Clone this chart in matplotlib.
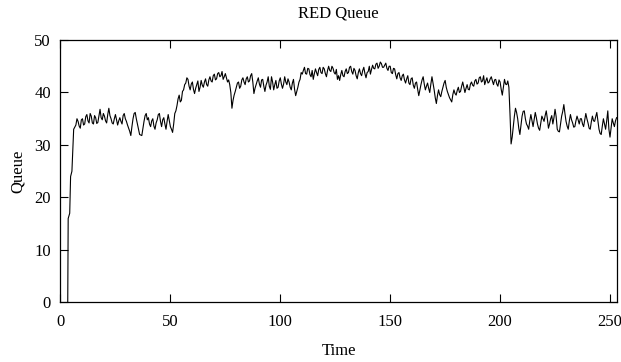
import matplotlib
matplotlib.use("Agg")
import matplotlib.pyplot as plt
import numpy as np

plt.rcParams.update({
    'font.family': ['Liberation Serif', 'DejaVu Serif'],
    'font.size': 12,
    'xtick.direction': 'in',
    'ytick.direction': 'in',
    'xtick.top': True,
    'ytick.right': True,
    'axes.linewidth': 0.9,
})

# start-up ramp of the queue (irregular sampling)
ramp_time = [3.3, 3.5, 4.2, 4.6, 5.2, 6.0]
ramp_queue = [0.0, 16.0, 17.0, 24.0, 25.0, 33.0]

# queue length, two samples per time unit from t=7 to t=253
queue = [
    33.8, 35.0, 34.5, 33.6, 33.2, 34.8, 35.0, 33.8, 34.0, 35.4, 35.8, 34.6, 34.2, 36.0, 35.5, 34.2, 34.0, 35.6, 35.2, 34.1,
    34.3, 35.5, 36.8, 35.2, 34.8, 36.0, 35.5, 34.6, 34.2, 35.8, 37.0, 35.6, 35.0, 34.2, 34.0, 35.0, 35.8, 34.8, 33.8, 34.6,
    35.2, 34.5, 34.0, 35.6, 36.0, 35.0, 34.5, 33.8, 33.2, 32.6, 31.8, 33.5, 35.0, 36.0, 36.2, 35.0, 34.0, 33.0, 32.0, 31.9,
    31.8, 33.2, 34.5, 35.6, 36.0, 34.8, 35.2, 34.0, 33.5, 34.6, 35.0, 33.6, 33.0, 34.2, 34.8, 35.8, 36.0, 34.5, 33.5, 34.8,
    35.2, 34.0, 33.0, 34.5, 35.8, 34.6, 33.5, 33.0, 32.4, 34.0, 36.0, 36.5, 37.5, 38.8, 39.5, 38.2, 38.5, 40.2, 40.5, 41.5,
    41.8, 42.8, 42.5, 41.2, 40.5, 41.6, 42.0, 40.6, 39.8, 40.8, 41.5, 42.2, 40.2, 41.0, 42.3, 41.4, 41.0, 42.0, 42.6, 41.5,
    41.2, 42.4, 43.0, 42.2, 42.0, 43.2, 43.5, 42.4, 42.6, 43.6, 43.8, 43.0, 43.2, 44.0, 42.5, 43.0, 43.6, 42.8, 42.0, 42.4,
    41.5, 40.0, 37.0, 38.5, 39.5, 40.2, 41.0, 41.8, 42.0, 40.8, 41.2, 42.4, 42.8, 42.0, 41.5, 42.6, 43.0, 42.0, 42.2, 43.2,
    43.6, 42.0, 39.8, 40.8, 41.5, 42.2, 42.8, 41.6, 41.0, 42.4, 42.5, 41.2, 40.2, 41.4, 42.0, 43.0, 41.2, 40.6, 43.0, 42.0,
    40.5, 41.5, 42.3, 40.8, 41.0, 42.2, 42.8, 41.6, 40.8, 41.6, 43.0, 42.0, 41.5, 42.6, 42.0, 41.0, 40.5, 41.8, 42.5, 40.6,
    39.4, 40.2, 41.0, 42.0, 42.5, 43.8, 43.5, 44.2, 44.8, 43.6, 43.5, 44.6, 44.5, 43.4, 43.0, 44.2, 42.5, 43.6, 44.5, 43.8,
    43.2, 44.4, 44.8, 43.8, 43.6, 44.8, 44.5, 43.6, 43.0, 44.2, 45.0, 44.2, 44.0, 45.0, 44.6, 43.8, 43.5, 44.4, 42.5, 43.2,
    42.3, 43.4, 44.2, 43.2, 43.0, 44.0, 44.5, 43.6, 43.8, 44.8, 45.0, 44.0, 43.5, 44.6, 44.2, 43.2, 42.6, 43.8, 44.5, 43.6,
    43.2, 44.2, 44.8, 43.6, 42.8, 43.8, 44.0, 45.0, 43.5, 44.4, 45.2, 44.6, 44.5, 45.4, 45.6, 44.6, 45.0, 45.8, 45.5, 44.8,
    44.8, 45.2, 45.6, 44.6, 44.2, 45.0, 45.0, 43.8, 43.6, 44.6, 44.5, 43.4, 42.6, 43.6, 43.8, 42.8, 42.3, 43.2, 43.5, 42.4,
    41.8, 42.6, 43.2, 41.8, 41.5, 42.6, 42.8, 41.4, 40.8, 41.8, 42.0, 40.6, 39.4, 40.5, 41.5, 42.4, 43.0, 41.6, 40.5, 41.2,
    41.8, 40.8, 40.0, 41.6, 43.0, 41.8, 40.5, 39.0, 37.9, 39.4, 40.5, 39.6, 39.2, 40.2, 41.0, 41.8, 42.3, 41.0, 40.2, 39.6,
    39.0, 38.6, 38.2, 39.6, 40.5, 39.8, 39.5, 40.4, 41.0, 40.0, 40.2, 41.2, 42.0, 41.0, 40.0, 40.8, 41.5, 40.6, 40.5, 41.6,
    42.0, 41.4, 41.2, 42.2, 42.5, 41.6, 41.8, 42.8, 43.0, 42.0, 42.2, 43.2, 41.5, 42.2, 42.8, 41.8, 42.0, 42.6, 43.0, 42.2,
    41.5, 42.4, 42.5, 41.6, 41.2, 42.4, 42.0, 40.6, 39.5, 41.0, 42.5, 41.6, 41.5, 42.2, 41.0, 36.0, 30.2, 31.5, 33.5, 35.5,
    37.0, 36.2, 35.0, 33.2, 32.0, 33.8, 35.5, 36.4, 36.5, 35.0, 34.0, 33.6, 33.0, 34.6, 35.8, 34.6, 33.5, 34.8, 36.2, 35.2,
    34.0, 33.2, 32.8, 34.2, 35.5, 35.0, 34.5, 35.6, 36.5, 35.0, 33.2, 34.0, 35.0, 35.6, 34.0, 35.2, 36.8, 35.4, 33.0, 32.6,
    32.5, 34.0, 35.5, 36.4, 37.7, 36.0, 34.5, 33.6, 33.0, 34.6, 35.8, 34.8, 34.2, 33.4, 33.5, 34.6, 35.5, 34.8, 34.0, 35.0,
    35.0, 34.0, 33.5, 34.8, 36.0, 35.0, 34.2, 33.2, 33.0, 34.4, 35.5, 34.6, 34.5, 35.4, 36.2, 34.6, 33.0, 32.2, 32.0, 33.6,
    35.0, 34.0, 33.0, 34.6, 36.5, 33.0, 31.5, 33.2, 35.0, 34.2, 33.5, 34.6, 35.2,
]
sample_time = 7 + 0.5 * np.arange(len(queue))

time = np.concatenate([ramp_time, sample_time])
values = np.concatenate([ramp_queue, queue])

fig = plt.figure(figsize=(6.21, 3.62), dpi=100)
ax = fig.add_axes([0.0974, 0.1644, 0.8955, 0.7251])

ax.plot(time, values, color='black', linewidth=0.8)

ax.set_xlim(0, 253)
ax.set_ylim(0, 50)
ax.set_xticks([0, 50, 100, 150, 200, 250])
ax.set_yticks([0, 10, 20, 30, 40, 50])
ax.tick_params(length=6, width=0.8)
ax.tick_params(axis='x', pad=8)
ax.tick_params(axis='y', pad=7)

ax.set_title("RED Queue", fontsize=12, pad=16)
ax.set_xlabel("Time", labelpad=10)
ax.set_ylabel("Queue", labelpad=6)

fig.savefig("out.png", dpi=100)
